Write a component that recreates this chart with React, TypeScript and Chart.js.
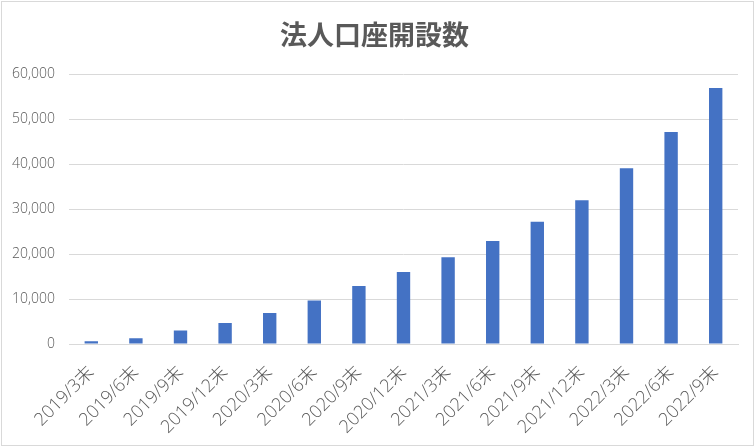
import React, { useEffect, useRef } from "react";
import { Chart, registerables } from "chart.js";

Chart.register(...registerables);

const categories = [
  "2019/3末", "2019/6末", "2019/9末", "2019/12末",
  "2020/3末", "2020/6末", "2020/9末", "2020/12末",
  "2021/3末", "2021/6末", "2021/9末", "2021/12末",
  "2022/3末", "2022/6末", "2022/9末",
];
const accounts = [
  600, 1300, 3000, 4700,
  6900, 9700, 12900, 16000,
  19300, 22900, 27200, 32000,
  39100, 47200, 57000,
];
const titleText = "法人口座開設数";
const yMax = 60000;
const yStep = 10000;

const tickFont = '"Open Sans", "Noto Sans CJK JP", sans-serif';

export default function App() {
  const ref = useRef<HTMLCanvasElement | null>(null);
  useEffect(() => {
    if (!ref.current) return;
    const chart = new Chart(ref.current, {
      type: "bar",
      data: {
        labels: categories,
        datasets: [
          {
            label: titleText,
            data: accounts,
            backgroundColor: "#4472C4",
            barPercentage: 0.6,
            categoryPercentage: 0.5,
          },
        ],
      },
      options: {
        responsive: false,
        animation: false,
        maintainAspectRatio: false,
        layout: { autoPadding: false, padding: { top: 8, right: 15, bottom: 3, left: 9 } },
        plugins: {
          legend: { display: false },
          tooltip: { enabled: false },
          title: {
            display: true,
            text: titleText,
            color: "#595959",
            font: { family: '"Noto Sans CJK JP", sans-serif', size: 27, weight: "bold" },
            padding: { top: 9, bottom: 23 },
          },
        },
        scales: {
          x: {
            grid: { display: false },
            border: { display: true, color: "#d9d9d9" },
            afterFit: (scale: any) => {
              scale.paddingLeft = 0;
              scale.paddingRight = 0;
              scale.height = 98;
            },
            ticks: {
              color: "#595959",
              font: { family: tickFont, size: 18, weight: "300" },
              maxRotation: 45,
              minRotation: 45,
              autoSkip: false,
              padding: 10,
            },
          },
          y: {
            min: 0,
            max: yMax,
            grid: { color: "#d9d9d9", drawTicks: false },
            border: { display: false },
            afterFit: (scale: any) => {
              scale.width = 58;
            },
            ticks: {
              stepSize: yStep,
              color: "#595959",
              font: { family: tickFont, size: 14, weight: "300" },
              padding: 14,
              callback: (v: any) => Number(v).toLocaleString("en-US"),
            },
          },
        },
      },
    });
    return () => chart.destroy();
  }, []);
  return (
    <div
      style={{
        position: "fixed",
        left: 1,
        top: 1,
        width: 753,
        height: 445,
        border: "1px solid #d9d9d9",
        boxSizing: "border-box",
        background: "#fff",
      }}
    >
      <canvas ref={ref} width={751} height={443} style={{ display: "block" }} />
    </div>
  );
}
